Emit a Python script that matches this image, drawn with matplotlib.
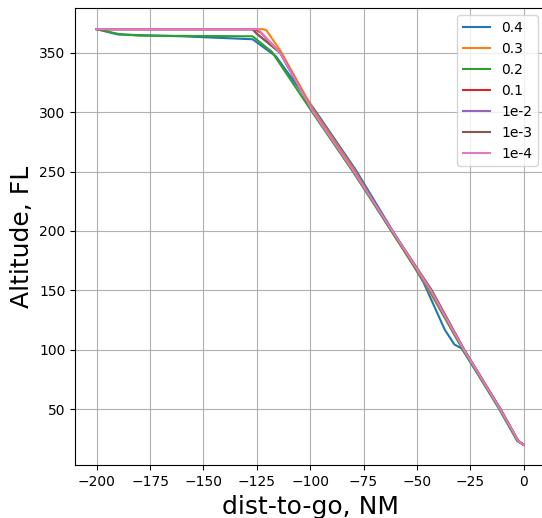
import matplotlib
matplotlib.use('Agg')
import matplotlib.pyplot as plt

# legend labels (tolerance values)
labels = ['0.4', '0.3', '0.2', '0.1', '1e-2', '1e-3', '1e-4']

# dist-to-go (NM) and altitude (FL) for each run
x_04 = [-200, -190, -160, -127, -116, -97.5, -78.5, -61, -47, -37, -32.5, -29, -11, -2.5, 0]
y_04 = [370, 365.5, 364, 361.5, 347, 301, 251, 199, 157, 117, 104.5, 101, 50, 23, 20]

x_03 = [-200, -122, -120.5, -114, -98.5, -79.5, -62, -46, -31, -28, -11, -2.5, 0]
y_03 = [370, 370, 369, 352, 302, 252, 200, 155, 108, 100, 50, 23, 20]

x_02 = [-200, -190, -180, -127, -118, -99, -80, -62, -44, -28.5, -11.5, -3, 0]
y_02 = [370, 366, 364.5, 364, 351, 300, 250, 200, 150, 100, 50, 23, 20]

x_01 = [-200, -126, -123, -114, -98.5, -79.5, -61.5, -43.5, -28, -11, -2.5, 0]
y_01 = [370, 370, 367, 350, 300, 250, 200, 150, 100, 50, 23, 20]

x_1e2 = [-200, -127, -125, -114, -98.5, -79.5, -61.5, -43.5, -28, -11, -2.5, 0]
y_1e2 = [370, 370, 366, 350, 300, 250, 200, 150, 100, 50, 23, 20]

x_1e3 = [-200, -127, -125.5, -114, -98.5, -79.5, -61.5, -43, -27.8, -10.8, -2.5, 0]
y_1e3 = [370, 370, 367, 350, 300, 250, 200, 150, 100, 50, 23, 20]

x_1e4 = [-200, -124.5, -123, -114, -98.5, -79.5, -61.5, -43.5, -28, -11, -2.5, 0]
y_1e4 = [370, 370, 367, 350, 300, 250, 200, 150, 100, 50, 23, 20]

xs = [x_04, x_03, x_02, x_01, x_1e2, x_1e3, x_1e4]
ys = [y_04, y_03, y_02, y_01, y_1e2, y_1e3, y_1e4]

fig = plt.figure(figsize=(5.42, 5.18), dpi=100)
ax = fig.add_axes([75.4 / 542, 0.1014, (545 - 75.4) / 542, 0.9838 - 0.1014])

for x, y, lab in zip(xs, ys, labels):
    ax.plot(x, y, label=lab, linewidth=1.5)

ax.set_xticks([-200, -175, -150, -125, -100, -75, -50, -25, 0])
ax.set_yticks([50, 100, 150, 200, 250, 300, 350])
ax.grid(True)
ax.set_xlabel('dist-to-go, NM', fontsize=18)
ax.set_ylabel('Altitude, FL', fontsize=18)
ax.legend(loc='upper right')

fig.savefig('out.png', dpi=100)
